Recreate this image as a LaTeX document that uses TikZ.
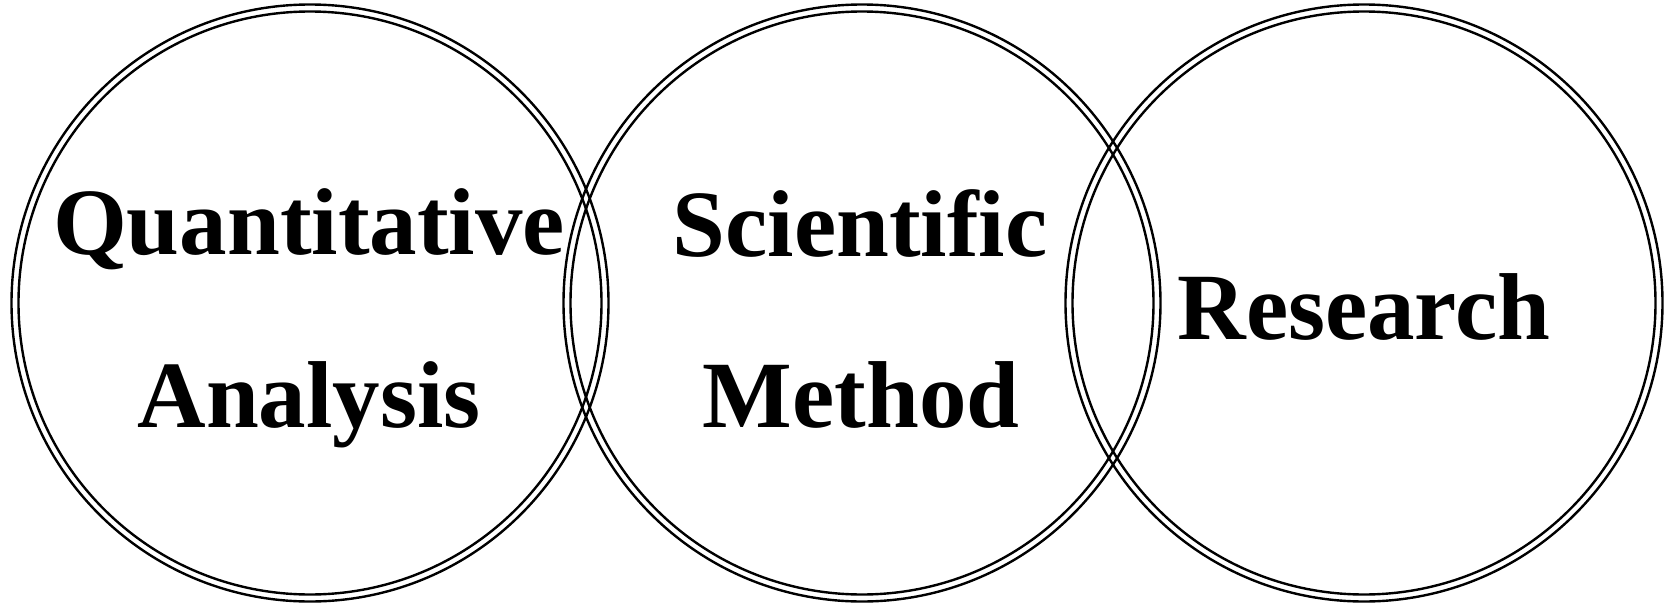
\documentclass[tikz,border=0pt]{standalone}
\usepackage{fontspec}
\setmainfont{Liberation Serif}
\usetikzlibrary{positioning}

\tikzset{
  ring/.style={line width=2.4pt},
  word/.style={anchor=base, inner sep=0pt, font=\fontsize{95}{95}\selectfont\bfseries}
}

\begin{document}
\begin{tikzpicture}[x=1pt, y=-1pt]
\useasboundingbox (0,0) rectangle (1671,605);
% three double rings
\foreach \n/\cx in {1/310,2/862,3/1364} {
  \coordinate (c\n) at (\cx,303);
  \draw [ring] (c\n) circle [radius=298.5pt];
  \draw [ring] (c\n) circle [radius=291.5pt];
}
\node (quant) [word] at (309,254) {Quantitative};
\node (anal) [word] at (309,427) {Analysis};
\node (sci) [word] at (860,256) {Scientific};
\node (meth) [word] at (861,427) {Method};
\node (res) [word] at (1364,339) {Research};
\end{tikzpicture}
\end{document}
